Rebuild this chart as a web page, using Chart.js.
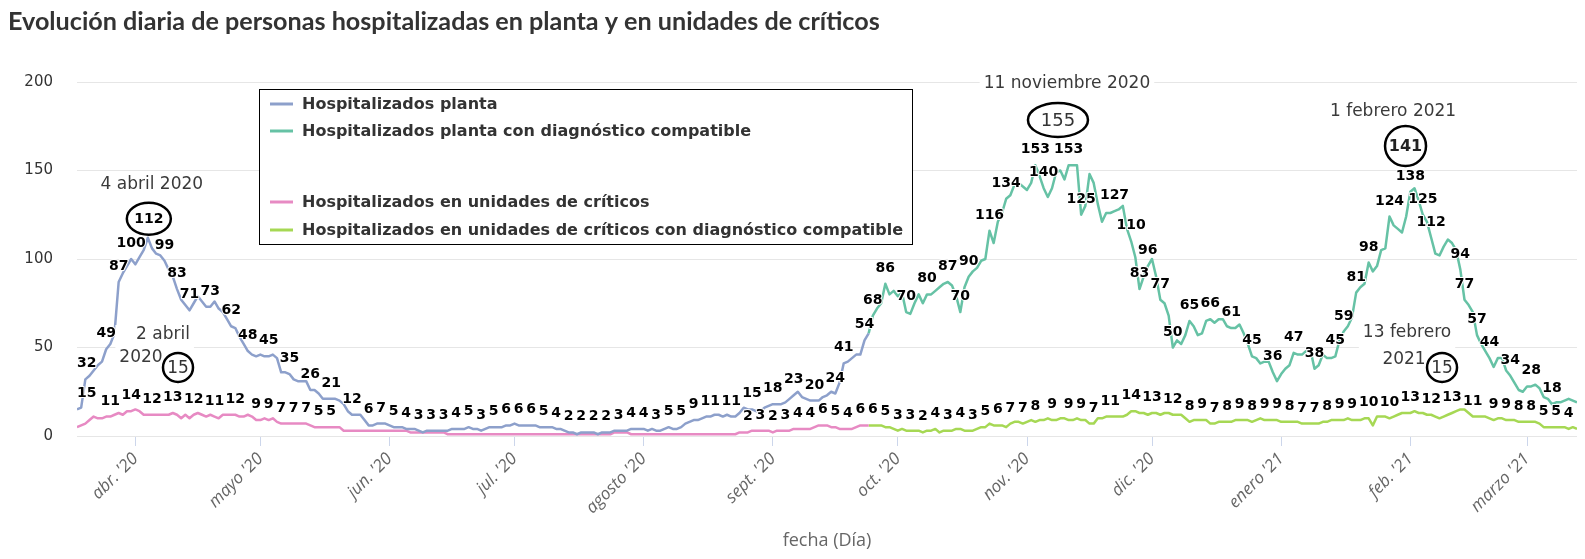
<!DOCTYPE html>
<html lang="es">
<head>
<meta charset="utf-8">
<script src="https://cdn.jsdelivr.net/npm/chart.js@4.4.1/dist/chart.umd.min.js"></script>
<style>
html,body{margin:0;padding:0;background:#fff;}
canvas{display:block;}
</style>
</head>
<body>
<canvas id="c" width="1585" height="559"></canvas>
<script>
// ---------------- DATA ----------------
const titleText = 'Evolución diaria de personas hospitalizadas en planta y en unidades de críticos';
const xAxisTitle = 'fecha (Día)';
const seriesNames = [
  'Hospitalizados planta',
  'Hospitalizados planta con diagnóstico compatible',
  'Hospitalizados en unidades de críticos',
  'Hospitalizados en unidades de críticos con diagnóstico compatible'
];
const startDate = '2020-03-18';        // first day of "planta" / "críticos"
const compatStartDate = '2020-09-24';  // first day of the "compatible" series

const plantaValues = [
  15,16,32,34,37,40,42,49,52,58,
  87,92,96,100,97,101,105,112,106,103,
  102,99,94,90,83,77,74,71,75,79,
  76,73,73,76,72,70,66,62,61,56,
  52,48,46,45,46,45,45,46,44,36,
  36,35,32,31,31,31,26,26,24,21,
  21,21,21,20,18,14,12,12,12,9,
  6,6,7,7,7,6,5,5,5,4,
  4,4,3,2,3,3,3,3,3,3,
  4,4,4,4,5,4,4,3,4,5,
  5,5,5,6,6,7,6,6,6,6,
  6,5,5,5,5,4,4,3,2,2,
  1,2,2,2,2,1,2,2,2,3,
  3,3,3,4,4,4,4,3,4,3,
  3,4,5,4,4,5,7,8,9,9,
  10,11,11,12,12,11,12,11,11,13,
  16,15,15,14,14,16,17,18,18,18,
  19,21,23,25,22,21,20,20,20,22,
  23,25,24,30,41,42,44,46,46,54,
  58
];
const criticosValues = [
  5,6,7,9,11,10,10,11,11,12,
  13,12,14,14,15,14,12,12,12,12,
  12,12,12,13,12,10,12,10,12,13,
  12,11,12,11,10,12,12,12,12,11,
  11,12,11,9,9,10,9,10,8,7,
  7,7,7,7,7,7,6,5,5,5,
  5,5,5,5,3,3,3,3,3,3,
  3,3,3,3,3,3,3,3,3,3,
  2,2,2,2,2,2,2,2,2,1,
  1,1,1,1,1,1,1,1,1,1,
  1,1,1,1,1,1,1,1,1,1,
  1,1,1,1,1,1,1,1,1,1,
  1,1,1,1,1,1,1,1,1,2,
  2,2,2,1,1,1,1,1,1,1,
  1,1,1,1,1,1,1,1,1,1,
  1,1,1,1,1,1,1,1,1,2,
  2,2,3,3,3,3,3,2,3,3,
  3,3,4,4,4,4,4,5,6,6,
  6,5,5,4,4,4,4,5,6,6,
  6
];
const compatValues = [
  58,68,72,75,86,80,82,79,81,70,
  69,75,80,75,80,80,82,84,86,87,
  85,79,70,84,90,93,95,99,100,116,
  109,121,126,134,136,142,143,141,139,143,
  153,147,140,135,140,149,150,145,153,153,
  153,125,130,148,143,131,121,126,126,127,
  128,130,117,110,101,83,90,96,100,90,
  77,75,68,50,54,52,57,65,62,57,
  58,65,66,64,66,66,62,61,61,63,
  58,52,45,44,41,42,42,36,31,35,
  38,40,47,46,46,48,49,38,40,46,
  44,44,45,54,59,62,67,81,84,86,
  98,93,96,105,106,124,119,117,115,124,
  138,140,133,125,121,112,103,102,107,111,
  109,105,94,77,74,70,57,52,48,44,
  39,44,44,37,34,30,26,25,28,28,
  29,27,22,21,18,19,19,20,21,20,19
];
const criticosCompatValues = [
  6,6,6,6,5,5,4,3,4,3,
  3,3,3,2,3,3,4,2,3,3,
  3,4,4,3,3,3,4,5,5,7,
  6,6,6,5,7,8,8,7,8,9,
  8,9,9,10,9,9,10,10,9,9,
  10,9,9,7,7,10,10,11,11,11,
  11,11,12,14,14,13,13,12,13,13,
  12,13,13,12,12,12,10,8,9,9,
  9,9,7,7,8,8,8,8,9,9,
  9,9,8,9,10,9,9,9,9,8,
  8,8,8,8,7,7,7,7,7,8,
  8,9,9,9,9,10,9,9,9,10,
  10,6,11,11,11,10,11,12,13,13,
  13,14,13,13,12,12,11,10,11,12,
  13,14,15,15,13,11,11,11,11,10,
  9,10,10,9,9,9,8,8,8,8,
  8,7,5,5,5,5,5,5,4,5,4
];

const monthTickDates = ['2020-04-01','2020-05-01','2020-06-01','2020-07-01','2020-08-01','2020-09-01',
                        '2020-10-01','2020-11-01','2020-12-01','2021-01-01','2021-02-01','2021-03-01'];
const monthTickLabels = ["abr. '20","mayo '20","jun. '20","jul. '20","agosto '20","sept. '20",
                         "oct. '20","nov. '20","dic. '20","enero '21","feb. '21","marzo '21"];
const yTickValues = [0, 50, 100, 150, 200];

// highlighted values (date, value, caption)
const noteDates    = ['2020-04-04', '2020-04-02', '2020-11-11', '2021-02-01', '2021-02-13'];
const noteValues   = [112, 15, 155, 141, 15];
const noteCaptions = [['4 abril 2020'], ['2 abril', '2020'], ['11 noviembre 2020'], ['1 febrero 2021'], ['13 febrero', '2021']];

// ---------------- LAYOUT / STYLE ----------------
const COLORS = ['#8da0cb', '#66c2a5', '#e78ac3', '#a6d854'];
const PLOT = { left: 77, right: 1577, top: 82, bottom: 436 };
const LABEL_FONT = 'bold 14px "DejaVu Sans"';
// pixel offsets of annotation pieces relative to the annotated point
const noteLayout = [
  { ell: { dx: 1, dy: -19, rx: 22, ry: 16 }, num: { font: 'bold 14px "DejaVu Sans"', color: '#000' },
    lines: [{ dx: 4, dy: -53 }] },
  { ell: { dx: 38.5, dy: -42, rx: 15, ry: 14.5 }, num: { font: '17px "DejaVu Sans"', color: '#333' },
    lines: [{ dx: 23.5, dy: -74.4 }, { dx: 1.5, dy: -51.4 }] },
  { ell: { dx: -10.7, dy: -41.7, rx: 30, ry: 17 }, num: { font: '18px "DejaVu Sans"', color: '#333' },
    lines: [{ dx: -1.7, dy: -77.7 }] },
  { ell: { dx: -4.8, dy: -40.4, rx: 20.5, ry: 20 }, num: { font: 'bold 16px "DejaVu Sans"', color: '#222' },
    lines: [{ dx: -17.3, dy: -74.4 }] },
  { ell: { dx: -18.3, dy: -42, rx: 15, ry: 14.5 }, num: { font: '17px "DejaVu Sans"', color: '#333' },
    lines: [{ dx: -53.3, dy: -76.4 }, { dx: -56.3, dy: -49.4 }] }
];
const legendBox = { x: 259.5, y: 89.5, w: 653, h: 155 };
const legendRows = [104, 131, 202, 230];

// ---------------- HELPERS ----------------
function dayIndex(s) {
  return Math.round((Date.parse(s + 'T00:00:00Z') - Date.parse(startDate + 'T00:00:00Z')) / 86400000);
}
function toPoints(values, firstDate) {
  const off = dayIndex(firstDate);
  return values.map((v, i) => ({ x: off + i, y: v }));
}
const lastDay = dayIndex(compatStartDate) + compatValues.length - 1;
const monthTickDays = monthTickDates.map(dayIndex);

function fitFont(ctx, text, weight, family, targetW) {
  ctx.font = weight + ' 20px ' + family;
  const w = ctx.measureText(text).width;
  return 20 * targetW / w;
}
function overlaps(a, b) {
  return a.l < b.r && b.l < a.r && a.t < b.b && b.t < a.b;
}

// annotation geometry, in pixels
function noteGeometry(chart) {
  const xs = chart.scales.x, ys = chart.scales.y;
  const ctx = chart.ctx;
  return noteDates.map((d, i) => {
    const px = xs.getPixelForValue(dayIndex(d));
    const py = ys.getPixelForValue(noteValues[i]);
    const L = noteLayout[i];
    const e = { cx: px + L.ell.dx, cy: py + L.ell.dy, rx: L.ell.rx, ry: L.ell.ry };
    ctx.font = '17px "DejaVu Sans"';
    const lines = noteCaptions[i].map((t, k) => {
      const w = ctx.measureText(t).width;
      return { t, x: px + L.lines[k].dx, y: py + L.lines[k].dy, w };
    });
    let l = Infinity, r = -Infinity, t = Infinity, b = -Infinity;
    lines.forEach(o => { l = Math.min(l, o.x - o.w / 2 - 4); r = Math.max(r, o.x + o.w / 2 + 4);
                         t = Math.min(t, o.y - 10); b = Math.max(b, o.y + 10); });
    return { e, lines, bg: { l, r, t, b }, L };
  });
}

// ---------------- PLUGINS ----------------
const dataLabelPlugin = {
  id: 'dataLabels',
  afterDatasetsDraw(chart) {
    const ctx = chart.ctx, area = chart.chartArea;
    const placed = [];
    noteGeometry(chart).forEach(g => {
      placed.push({ l: g.e.cx - g.e.rx * 0.85, r: g.e.cx + g.e.rx * 0.85,
                    t: g.e.cy - g.e.ry * 0.85, b: g.e.cy + g.e.ry * 0.85 });
      placed.push({ l: g.bg.l + 3, r: g.bg.r - 3, t: g.bg.t + 3, b: g.bg.b - 3 });
    });
    ctx.save();
    ctx.font = LABEL_FONT;
    ctx.textAlign = 'center';
    ctx.textBaseline = 'alphabetic';
    ctx.lineJoin = 'round';
    chart.data.datasets.forEach((ds, i) => {
      const meta = chart.getDatasetMeta(i);
      meta.data.forEach((pt, j) => {
        const txt = String(ds.data[j].y);
        const w = ctx.measureText(txt).width;
        let cx = pt.x;
        if (cx - w / 2 < area.left) cx = area.left + w / 2;
        if (cx + w / 2 > area.right) cx = area.right - w / 2;
        const base = pt.y - 12;
        const box = { l: cx - w / 2, r: cx + w / 2, t: base - 13, b: base + 5 };
        if (placed.some(p => overlaps(p, box))) return;
        placed.push(box);
        ctx.strokeStyle = '#fff';
        ctx.lineWidth = 2;
        ctx.strokeText(txt, cx, base);
        ctx.fillStyle = '#000';
        ctx.fillText(txt, cx, base);
      });
    });
    ctx.restore();
  },
  afterDraw(chart) {
    const ctx = chart.ctx, area = chart.chartArea;
    ctx.save();
    // title
    const tf = fitFont(ctx, titleText, 'bold', 'Lato, "DejaVu Sans"', 872);
    ctx.font = 'bold ' + tf.toFixed(2) + 'px Lato, "DejaVu Sans"';
    ctx.fillStyle = '#333';
    ctx.textAlign = 'left';
    ctx.textBaseline = 'alphabetic';
    ctx.fillText(titleText, 8, 30);
    // x axis title
    ctx.font = '18px "Liberation Sans Narrow", "Open Sans", sans-serif';
    ctx.fillStyle = '#666';
    ctx.textAlign = 'center';
    ctx.textBaseline = 'middle';
    ctx.fillText(xAxisTitle, (area.left + area.right) / 2, 541);

    // legend
    ctx.fillStyle = '#fff';
    ctx.fillRect(legendBox.x, legendBox.y, legendBox.w, legendBox.h);
    ctx.strokeStyle = '#000';
    ctx.lineWidth = 1;
    ctx.strokeRect(legendBox.x, legendBox.y, legendBox.w, legendBox.h);
    const longest = seriesNames.reduce((a, b) => (a.length > b.length ? a : b));
    const lf = Math.min(16, fitFont(ctx, longest, 'bold', '"DejaVu Sans"', 603));
    ctx.font = 'bold ' + lf.toFixed(2) + 'px "DejaVu Sans"';
    ctx.textAlign = 'left';
    ctx.textBaseline = 'middle';
    seriesNames.forEach((name, i) => {
      const y = legendRows[i];
      ctx.strokeStyle = COLORS[i];
      ctx.lineWidth = 3;
      ctx.beginPath();
      ctx.moveTo(270, y);
      ctx.lineTo(293, y);
      ctx.stroke();
      ctx.fillStyle = '#333';
      ctx.fillText(name, 302, y + 1);
    });

    // annotations
    noteGeometry(chart).forEach((g, i) => {
      ctx.fillStyle = '#fff';
      ctx.fillRect(g.bg.l, g.bg.t, g.bg.r - g.bg.l, g.bg.b - g.bg.t);
      ctx.font = '17px "DejaVu Sans"';
      ctx.fillStyle = '#3a3a3a';
      ctx.textAlign = 'center';
      ctx.textBaseline = 'middle';
      g.lines.forEach(o => ctx.fillText(o.t, o.x, o.y));
      ctx.beginPath();
      ctx.ellipse(g.e.cx, g.e.cy, g.e.rx, g.e.ry, 0, 0, Math.PI * 2);
      ctx.fillStyle = '#fff';
      ctx.fill();
      ctx.strokeStyle = '#000';
      ctx.lineWidth = 2.5;
      ctx.stroke();
      ctx.font = g.L.num.font;
      ctx.fillStyle = g.L.num.color;
      ctx.fillText(String(noteValues[i]), g.e.cx, g.e.cy + 1);
    });
    ctx.restore();
  }
};

// ---------------- CHART ----------------
const datasets = [
  { label: seriesNames[0], data: toPoints(plantaValues, startDate), borderColor: COLORS[0] },
  { label: seriesNames[1], data: toPoints(compatValues, compatStartDate), borderColor: COLORS[1] },
  { label: seriesNames[2], data: toPoints(criticosValues, startDate), borderColor: COLORS[2] },
  { label: seriesNames[3], data: toPoints(criticosCompatValues, compatStartDate), borderColor: COLORS[3] }
].map(d => Object.assign(d, { borderWidth: 2.5, pointRadius: 0, tension: 0, fill: false,
                              borderJoinStyle: 'round', backgroundColor: d.borderColor }));

Chart.defaults.font.family = '"DejaVu Sans", sans-serif';

new Chart(document.getElementById('c'), {
  type: 'line',
  data: { datasets },
  plugins: [dataLabelPlugin],
  options: {
    responsive: false,
    animation: false,
    devicePixelRatio: 1,
    layout: { padding: { left: 0, top: PLOT.top, right: 1585 - PLOT.right, bottom: 0 } },
    plugins: { legend: { display: false }, tooltip: { enabled: false }, title: { display: false } },
    scales: {
      x: {
        type: 'linear',
        min: 0,
        max: lastDay,
        afterFit: s => { s.height = 559 - PLOT.bottom; },
        afterBuildTicks: s => { s.ticks = monthTickDays.map(v => ({ value: v })); },
        grid: { display: true, drawOnChartArea: false, drawTicks: true, tickLength: 10, color: '#ccd6eb', lineWidth: 1 },
        border: { display: false },
        ticks: {
          autoSkip: false, minRotation: 45, maxRotation: 45, padding: 3,
          color: '#666',
          font: { family: '"Liberation Sans Narrow", "Open Sans", sans-serif', size: 17, style: 'italic' },
          callback: (v, i) => monthTickLabels[i]
        }
      },
      y: {
        min: 0, max: 200,
        afterFit: s => { s.width = PLOT.left; },
        afterBuildTicks: s => { s.ticks = yTickValues.map(v => ({ value: v })); },
        grid: { color: '#e6e6e6', drawTicks: false, lineWidth: 1 },
        border: { display: false },
        ticks: { padding: 24, color: '#333', font: { size: 15 } }
      }
    }
  }
});
</script>
</body>
</html>
